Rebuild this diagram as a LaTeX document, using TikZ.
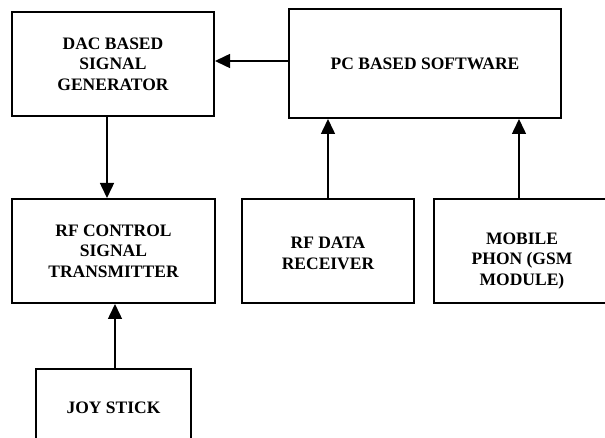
\documentclass[tikz,border=0pt]{standalone}
\usepackage{fontspec}
\setmainfont{Liberation Serif}
\usetikzlibrary{arrows.meta}
\begin{document}
\begin{tikzpicture}[x=1pt,y=-1pt,
  blk/.style={draw=black,line width=2pt,minimum width=#1,inner sep=0pt,align=center,
    font=\bfseries\fontsize{17.5}{20.5}\selectfont},
  arr/.style={line width=1.5pt,-{Triangle[width=14pt,length=15pt]}}]
\useasboundingbox (0,0) rectangle (605,438);
\clip (0,0) rectangle (605,438);
\node[blk=202pt,minimum height=104pt] (dac) at (113,64) {DAC BASED\\SIGNAL\\GENERATOR};
\node[blk=272pt,minimum height=109pt] (pc) at (425,63.5) {PC BASED SOFTWARE};
\node[blk=203pt,minimum height=104pt] (rf) at (113.5,251) {RF CONTROL\\SIGNAL\\TRANSMITTER};
\node[blk=172pt,minimum height=104pt] (rfd) at (328,251) {\rule{0pt}{16pt}RF DATA\\RECEIVER};
\node[blk=176pt,minimum height=104pt] (mob) at (522,251) {\rule{0pt}{31pt}MOBILE\\PHON (GSM\\MODULE)};
\node[blk=155pt,minimum height=78pt] (joy) at (113.5,408) {JOY STICK};
\draw[arr] ([yshift=2.5]pc.west) -- ([yshift=2.5]pc.west -| dac.east);
\draw[arr] ([xshift=-6]dac.south) -- ([xshift=-6]dac.south |- rf.north);
\draw[arr] ([xshift=1.5]joy.north) -- ([xshift=1.5]joy.north |- rf.south);
\draw[arr] (rfd.north) -- (rfd.north |- pc.south);
\draw[arr] ([xshift=-3]mob.north) -- ([xshift=-3]mob.north |- pc.south);
\end{tikzpicture}
\end{document}
